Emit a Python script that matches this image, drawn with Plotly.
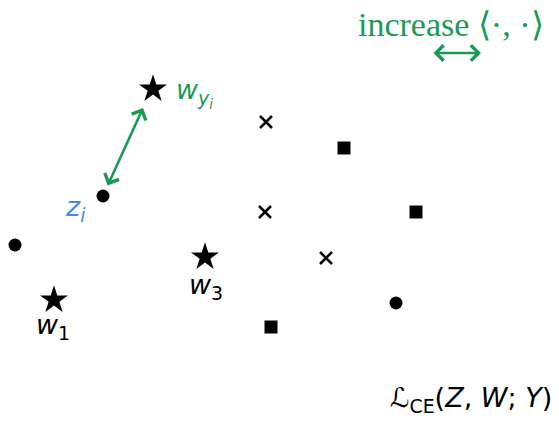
import plotly.graph_objects as go

# Data (canvas units, y downward)
circle_x = [15, 103, 396]
circle_y = [245, 196, 303]
square_x = [344, 416, 271]
square_y = [148, 212, 327]
cross_x = [266, 265, 326]
cross_y = [122, 212, 258]
star_x = [153, 205, 54]
star_y = [89, 257, 300]

# label texts and positions
label_text = ["<i>w</i><sub><i>y</i><sub><i>i</i></sub></sub>", "<i>z</i><sub><i>i</i></sub>",
              "<i>w</i><sub>3</sub>", "<i>w</i><sub>1</sub>"]
label_x = [194, 75, 206, 53]
label_y = [93, 208, 286, 326]
label_color = ["#1a9a55", "#4a86e8", "black", "black"]

# arrows: (tail, head)
arrow_tail_x = [107, 432]
arrow_tail_y = [187, 53]
arrow_head_x = [143, 481]
arrow_head_y = [108, 53]

GREEN = "#1a9a55"

fig = go.Figure()
fig.add_trace(go.Scatter(x=circle_x, y=circle_y, mode="markers",
                         marker=dict(symbol="circle", size=13, color="black")))
fig.add_trace(go.Scatter(x=square_x, y=square_y, mode="markers",
                         marker=dict(symbol="square", size=13, color="black")))
fig.add_trace(go.Scatter(x=cross_x, y=cross_y, mode="markers",
                         marker=dict(symbol="x-thin", size=12, color="black",
                                     line=dict(width=2.5, color="black"))))
fig.add_trace(go.Scatter(x=star_x, y=star_y, mode="markers",
                         marker=dict(symbol="star", size=21, color="black")))

ann = []
for t, x, y, c in zip(label_text, label_x, label_y, label_color):
    ann.append(dict(x=x, y=y, xref="x", yref="y", text=t, showarrow=False,
                    font=dict(family="DejaVu Sans", size=27, color=c),
                    xanchor="center", yanchor="middle"))
for tx, ty, hx, hy in zip(arrow_tail_x, arrow_tail_y, arrow_head_x, arrow_head_y):
    ann.append(dict(x=hx, y=hy, ax=tx, ay=ty, xref="x", yref="y", axref="x", ayref="y",
                    text="", showarrow=True, arrowhead=4, startarrowhead=4,
                    arrowside="end+start", arrowwidth=2.5, arrowsize=1.2,
                    startarrowsize=1.2, arrowcolor=GREEN, standoff=0, startstandoff=0))
ann.append(dict(x=451, y=24, xref="x", yref="y", text="increase \u27e8\u00b7, \u00b7\u27e9",
                showarrow=False, font=dict(family="Liberation Serif", size=34, color=GREEN),
                xanchor="center", yanchor="middle"))
ann.append(dict(x=471, y=399, xref="x", yref="y",
                text="\u2112<sub>CE</sub>(<i>Z</i>, <i>W</i>; <i>Y</i>)",
                showarrow=False, font=dict(family="DejaVu Sans", size=27, color="black"),
                xanchor="center", yanchor="middle"))

fig.update_layout(width=559, height=422, margin=dict(l=0, r=0, t=0, b=0),
                  paper_bgcolor="white", plot_bgcolor="white", showlegend=False,
                  annotations=ann,
                  xaxis=dict(range=[0, 559], visible=False, fixedrange=True),
                  yaxis=dict(range=[422, 0], visible=False, fixedrange=True))
fig.write_html("out.html", config={"displayModeBar": False},
               post_script="document.body.style.margin='0';")
